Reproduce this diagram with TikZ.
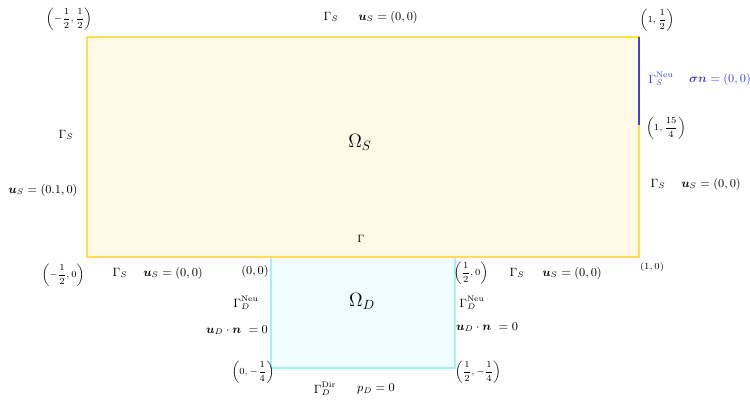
\documentclass[tikz,border=0pt]{standalone}
\usepackage{amsmath}
\usepackage{bm}
\definecolor{stokesfill}{HTML}{FFF9E6}
\definecolor{stokesline}{HTML}{FFE050}
\definecolor{darcyfill}{HTML}{EFFFFF}
\definecolor{darcyline}{HTML}{A8F0F0}
\definecolor{neublue}{HTML}{4040E0}
\tikzset{
  lbl/.style={inner sep=1pt, font=\small},
  crd/.style={inner sep=1pt, font=\scriptsize},
  dom/.style={inner sep=1pt, font=\Large},
}
\begin{document}
\begin{tikzpicture}[x=0.75pt,y=-0.75pt]
\useasboundingbox (0,0) rectangle (750,401);
% domains
\filldraw[fill=stokesfill, draw=stokesline, line width=1.2pt] (87,37) rectangle (639,257);
\filldraw[fill=darcyfill, draw=darcyline, line width=1pt] (271,257) rectangle (455,368);
\draw[stokesline, line width=1.2pt] (87,257) -- (639,257);
\coordinate (nA) at (639,37);
\coordinate (nB) at (639,125);
\draw[neublue, line width=1.2pt] (nA) -- (nB);
% domain labels
\node[dom] (OS) at (360,142) {$\Omega_S$};
\node[dom] (OD) at (362,301) {$\Omega_D$};
\node[lbl, font=\footnotesize] (G) at (361,239) {$\Gamma$};
% corner coordinates
\node[crd] (c1) at (69,19) {$\left(-\dfrac{1}{2},\dfrac{1}{2}\right)$};
\node[crd] (c2) at (657,20) {$\left(1,\dfrac{1}{2}\right)$};
\node[crd] (c3) at (666,128) {$\left(1,\dfrac{15}{4}\right)$};
\node[crd] (c4) at (652,267) {$(1,0)$};
\node[crd] (c5) at (63,275) {$\left(-\dfrac{1}{2},0\right)$};
\node[lbl] (c6) at (255,271) {$(0,0)$};
\node[crd] (c7) at (471,273) {$\left(\dfrac{1}{2},0\right)$};
\node[crd] (c8) at (253,372) {$\left(0,-\dfrac{1}{4}\right)$};
\node[crd] (c9) at (478,372) {$\left(\dfrac{1}{2},-\dfrac{1}{4}\right)$};
% boundary labels
\node[lbl] (t1) at (331,17) {$\Gamma_S$};
\node[lbl] (t2) at (388,17) {$\bm{u}_S=(0,0)$};
\node[lbl, text=neublue] (n1) at (661,79) {$\Gamma_S^{\mathrm{Neu}}$};
\node[lbl, text=neublue] (n2) at (720,79) {$\bm{\sigma}\bm{n}=(0,0)$};
\node[lbl] (l1) at (66,135) {$\Gamma_S$};
\node[lbl] (l2) at (43,190) {$\bm{u}_S=(0.1,0)$};
\node[lbl] (r1) at (658,184) {$\Gamma_S$};
\node[lbl] (r2) at (711,184) {$\bm{u}_S=(0,0)$};
\node[lbl] (b1) at (120,273) {$\Gamma_S$};
\node[lbl] (b2) at (173,273) {$\bm{u}_S=(0,0)$};
\node[lbl] (b3) at (517,273) {$\Gamma_S$};
\node[lbl] (b4) at (572,273) {$\bm{u}_S=(0,0)$};
\node[lbl] (d1) at (246,303) {$\Gamma_D^{\mathrm{Neu}}$};
\node[lbl] (d2) at (237,330) {$\bm{u}_D\cdot\bm{n}\ =0$};
\node[lbl] (d3) at (472,303) {$\Gamma_D^{\mathrm{Neu}}$};
\node[lbl] (d4) at (487,327) {$\bm{u}_D\cdot\bm{n}\ =0$};
\node[lbl] (d5) at (325,389) {$\Gamma_D^{\mathrm{Dir}}$};
\node[lbl] (d6) at (376,389) {$p_D=0$};
\end{tikzpicture}
\end{document}
